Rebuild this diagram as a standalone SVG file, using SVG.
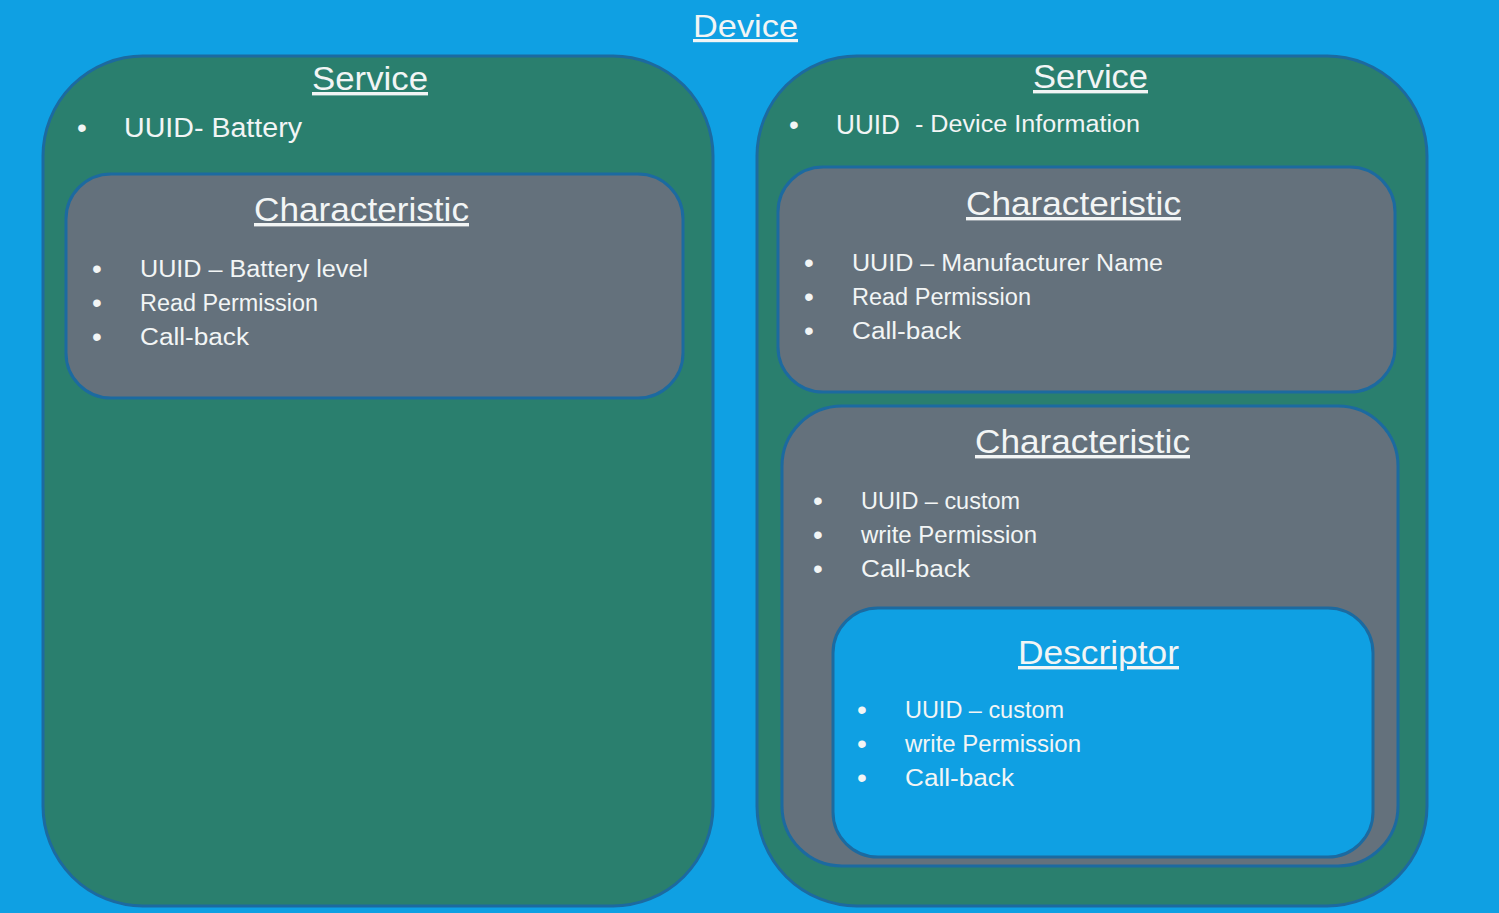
<svg xmlns="http://www.w3.org/2000/svg" width="1499" height="913" viewBox="0 0 1499 913">
<style>
.bg{fill:#0fa0e3}
.svc{fill:#2a7f6e;stroke:#1c6aa0;stroke-width:3}
.chr{fill:#64717c;stroke:#1c6aa0;stroke-width:3}
.dsc{fill:#0fa0e3;stroke:#1c6aa0;stroke-width:3}
text{font-family:"Liberation Sans","DejaVu Sans",sans-serif;fill:#f2f5f5}
.title{font-size:34px;text-decoration:underline;text-anchor:start}
.item{font-size:23px}
.big{font-size:27px}
.bul{font-size:28px}
</style>
<rect class="bg" x="0" y="0" width="1499" height="913"/>
<text id="device-title" class="title" x="693" y="37" style="font-size:32px" textLength="105" lengthAdjust="spacingAndGlyphs">Device</text>

<g id="service-battery">
  <rect class="svc" x="43" y="56" width="670" height="850" rx="100" ry="100"/>
  <text class="title" x="312" y="90" textLength="116" lengthAdjust="spacingAndGlyphs">Service</text>
  <text class="bul" x="77" y="137">•</text>
  <text class="big" x="124" y="137" textLength="178" lengthAdjust="spacingAndGlyphs">UUID- Battery</text>
</g>
<g id="char-battery-level">
  <rect class="chr" x="66" y="174" width="617" height="224" rx="45" ry="45"/>
  <text class="title" x="254" y="221" textLength="215" lengthAdjust="spacingAndGlyphs">Characteristic</text>
  <text class="bul" x="92" y="278">•</text>
  <text class="bul" x="92" y="312">•</text>
  <text class="bul" x="92" y="346">•</text>
  <text class="item" x="140" y="277" textLength="228" lengthAdjust="spacingAndGlyphs">UUID – Battery level</text>
  <text class="item" x="140" y="311" textLength="178" lengthAdjust="spacingAndGlyphs">Read Permission</text>
  <text class="item" x="140" y="345" textLength="109" lengthAdjust="spacingAndGlyphs">Call-back</text>
</g>

<g id="service-device-info">
  <rect class="svc" x="757" y="56" width="670" height="850" rx="100" ry="100"/>
  <text class="title" x="1033" y="88" textLength="115" lengthAdjust="spacingAndGlyphs">Service</text>
  <text class="bul" x="789" y="134">•</text>
  <text class="big" x="836" y="134" textLength="64" lengthAdjust="spacingAndGlyphs">UUID</text>
  <text class="item" x="915" y="132" textLength="225" lengthAdjust="spacingAndGlyphs">- Device Information</text>
</g>
<g id="char-manufacturer">
  <rect class="chr" x="778" y="167" width="617" height="225" rx="45" ry="45"/>
  <text class="title" x="966" y="215" textLength="215" lengthAdjust="spacingAndGlyphs">Characteristic</text>
  <text class="bul" x="804" y="272">•</text>
  <text class="bul" x="804" y="306">•</text>
  <text class="bul" x="804" y="340">•</text>
  <text class="item" x="852" y="271" textLength="311" lengthAdjust="spacingAndGlyphs">UUID – Manufacturer Name</text>
  <text class="item" x="852" y="305" textLength="179" lengthAdjust="spacingAndGlyphs">Read Permission</text>
  <text class="item" x="852" y="339" textLength="109" lengthAdjust="spacingAndGlyphs">Call-back</text>
</g>
<g id="char-custom">
  <rect class="chr" x="782" y="406" width="616" height="460" rx="60" ry="60"/>
  <text class="title" x="975" y="453" textLength="215" lengthAdjust="spacingAndGlyphs">Characteristic</text>
  <text class="bul" x="813" y="510">•</text>
  <text class="bul" x="813" y="544">•</text>
  <text class="bul" x="813" y="578">•</text>
  <text class="item" x="861" y="509" textLength="159" lengthAdjust="spacingAndGlyphs">UUID – custom</text>
  <text class="item" x="861" y="543" textLength="176" lengthAdjust="spacingAndGlyphs">write Permission</text>
  <text class="item" x="861" y="577" textLength="109" lengthAdjust="spacingAndGlyphs">Call-back</text>
</g>
<g id="descriptor">
  <rect class="dsc" x="833" y="608" width="540" height="249" rx="45" ry="45"/>
  <text class="title" x="1018" y="664" textLength="161" lengthAdjust="spacingAndGlyphs">Descriptor</text>
  <text class="bul" x="857" y="719">•</text>
  <text class="bul" x="857" y="753">•</text>
  <text class="bul" x="857" y="787">•</text>
  <text class="item" x="905" y="718" textLength="159" lengthAdjust="spacingAndGlyphs">UUID – custom</text>
  <text class="item" x="905" y="752" textLength="176" lengthAdjust="spacingAndGlyphs">write Permission</text>
  <text class="item" x="905" y="786" textLength="109" lengthAdjust="spacingAndGlyphs">Call-back</text>
</g>
<g id="connectors"></g>
</svg>
